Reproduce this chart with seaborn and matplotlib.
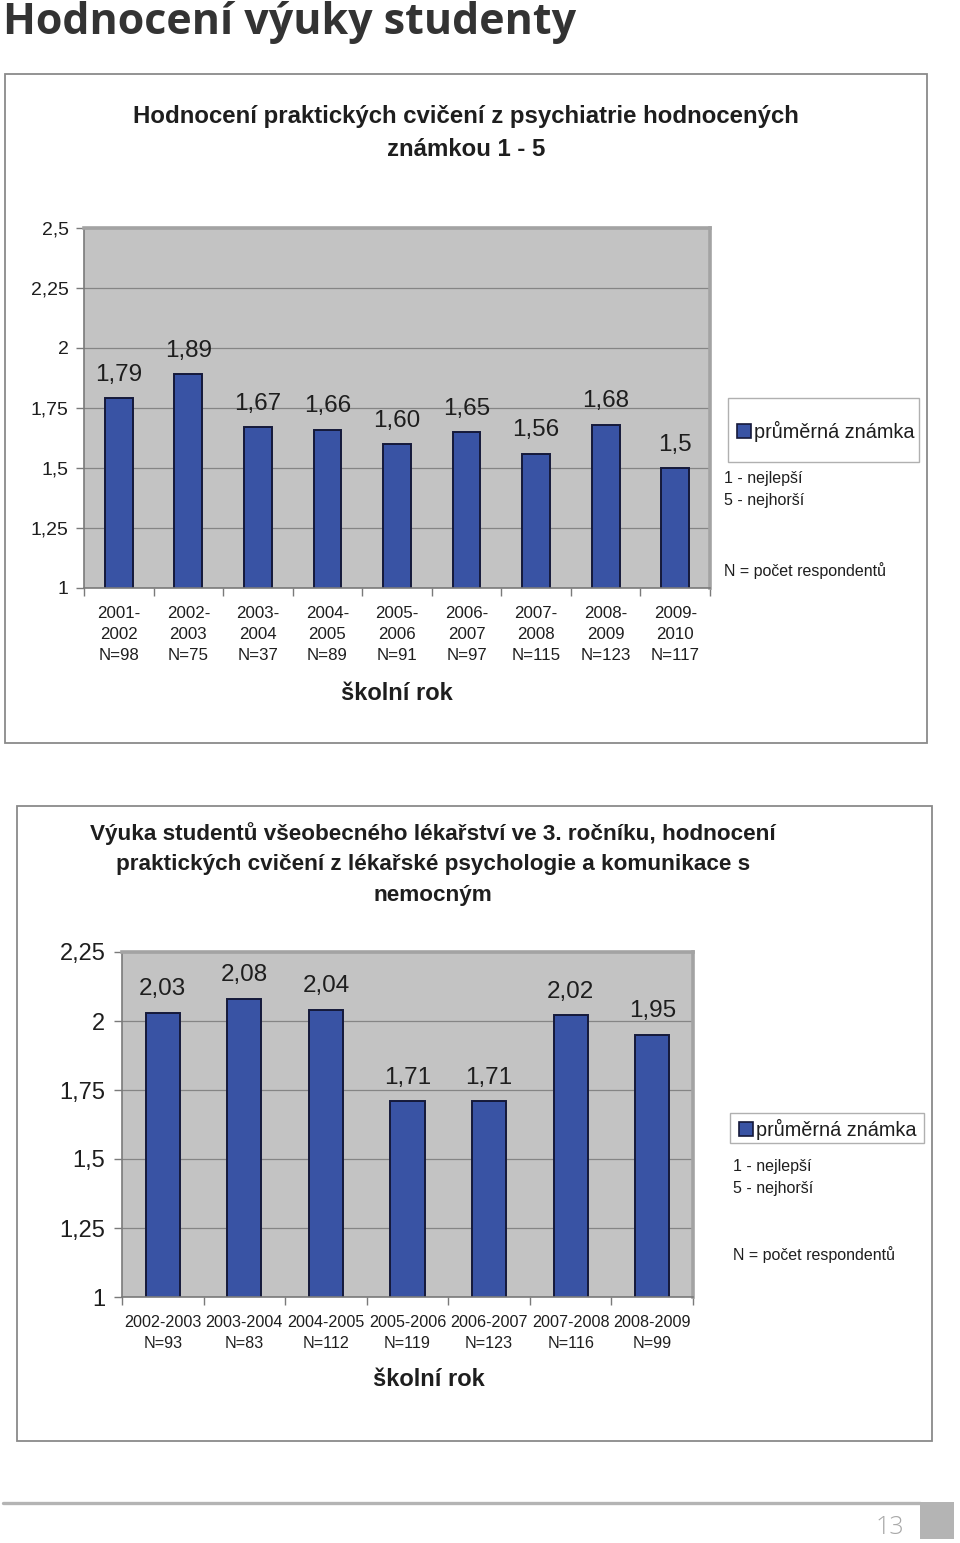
import matplotlib
matplotlib.use("Agg")
import matplotlib.pyplot as plt
import matplotlib.font_manager as fm
import seaborn as sns
import pandas as pd
import numpy as np
from matplotlib.patches import Rectangle
from matplotlib.lines import Line2D

# ---------------- data ----------------
top_years = ["2001-\n2002", "2002-\n2003", "2003-\n2004", "2004-\n2005", "2005-\n2006",
             "2006-\n2007", "2007-\n2008", "2008-\n2009", "2009-\n2010"]
top_n = [98, 75, 37, 89, 91, 97, 115, 123, 117]
top_values = [1.79, 1.89, 1.67, 1.66, 1.60, 1.65, 1.56, 1.68, 1.5]
top_value_labels = ["1,79", "1,89", "1,67", "1,66", "1,60", "1,65", "1,56", "1,68", "1,5"]
top_yticks = [1, 1.25, 1.5, 1.75, 2, 2.25, 2.5]
top_ytick_labels = ["1", "1,25", "1,5", "1,75", "2", "2,25", "2,5"]

bottom_years = ["2002-2003", "2003-2004", "2004-2005", "2005-2006", "2006-2007",
                "2007-2008", "2008-2009"]
bottom_n = [93, 83, 112, 119, 123, 116, 99]
bottom_values = [2.03, 2.08, 2.04, 1.71, 1.71, 2.02, 1.95]
bottom_value_labels = ["2,03", "2,08", "2,04", "1,71", "1,71", "2,02", "1,95"]
bottom_yticks = [1, 1.25, 1.5, 1.75, 2, 2.25]
bottom_ytick_labels = ["1", "1,25", "1,5", "1,75", "2", "2,25"]

page_title = "Hodnocení výuky studenty"
top_title = ["Hodnocení praktických cvičení z psychiatrie hodnocených", "známkou 1 - 5"]
bottom_title = ["Výuka studentů všeobecného lékařství ve 3. ročníku, hodnocení",
                "praktických cvičení z lékařské psychologie a komunikace s",
                "nemocným"]
legend_label = "průměrná známka"
scale_note_1 = "1 - nejlepší"
scale_note_5 = "5 - nejhorší"
n_note = "N = počet respondentů"
x_title = "školní rok"
page_number = "13"

# ---------------- style ----------------
sns.set_theme(style="white")
plt.rcParams['font.family'] = ['Liberation Sans', 'DejaVu Sans']
installed = {f.name for f in fm.fontManager.ttflist}
narrow = 'Liberation Sans Narrow' if 'Liberation Sans Narrow' in installed else 'Liberation Sans'

BLUE = "#3953A4"
EDGE = "#15193a"
PLOT_BG = "#C3C3C3"
GRID = "#858585"
TXT = "#1e1e1e"

W, H = 960, 1543
fig = plt.figure(figsize=(W / 100, H / 100), dpi=100)
fig.patch.set_facecolor("white")


def rect(x0, y0, x1, y1):
    return [x0 / W, 1 - y1 / H, (x1 - x0) / W, (y1 - y0) / H]


def fx(x):
    return x / W


def fy(y):
    return 1 - y / H


def style_axes(ax, n, yticks, ylabels, ysize, yfont, ypad, xsize):
    ax.set_facecolor(PLOT_BG)
    ax.set_xlim(-0.5, n - 0.5)
    ax.set_ylim(yticks[0], yticks[-1])
    ax.set_yticks(yticks)
    ax.set_yticklabels(ylabels, fontsize=ysize, family=yfont, color=TXT)
    ax.yaxis.grid(True, color=GRID, lw=0.9)
    ax.xaxis.grid(False)
    ax.set_axisbelow(True)
    for s in ("left", "bottom"):
        ax.spines[s].set_color("#7a7a7a")
        ax.spines[s].set_linewidth(1.2)
    for s in ("top", "right"):
        ax.spines[s].set_color("#a3a3a3")
        ax.spines[s].set_linewidth(2.6)
    ax.tick_params(axis="y", which="major", left=True, length=6, width=1,
                   color="#7a7a7a", pad=ypad)
    ax.tick_params(axis="x", which="major", bottom=False, length=0, pad=13,
                   labelsize=xsize, labelcolor=TXT)
    ax.set_xticks(np.arange(-0.5, n, 1), minor=True)
    ax.tick_params(axis="x", which="minor", bottom=True, length=6, width=1,
                   color="#7a7a7a")
    ax.set_ylabel("")
    for lbl in ax.get_xticklabels():
        lbl.set_linespacing(1.5)


def add_frame(x0, y0, x1, y1, color, lw):
    fig.patches.append(Rectangle((fx(x0), fy(y1)), (x1 - x0) / W, (y1 - y0) / H,
                                 transform=fig.transFigure, facecolor="none",
                                 edgecolor=color, lw=lw, zorder=0))


# ---------------- panel frames ----------------
add_frame(5, 74, 927, 743, "#8a8a8a", 1.3)
add_frame(17, 806, 932, 1441, "#8a8a8a", 1.3)

# ---------------- page header / footer ----------------
fig.text(fx(3), fy(23), page_title, family=["Open Sans", "DejaVu Sans"], weight="bold",
         fontsize=31, color="#333333", ha="left", va="center")
fig.lines.append(Line2D([fx(3), fx(920)], [fy(1503), fy(1503)], transform=fig.transFigure,
                        color="#b4b4b4", lw=2.4))
fig.patches.append(Rectangle((fx(920), fy(1539)), 34 / W, 37 / H, transform=fig.transFigure,
                             facecolor="#b4b4b4", edgecolor="none"))
fig.text(fx(890), fy(1527), page_number, family=["Open Sans", "DejaVu Sans"], weight="light",
         fontsize=18, color="#a8a8a8", ha="center", va="center")

handle = Rectangle((0, 0), 1, 1, facecolor=BLUE, edgecolor=EDGE, lw=1.2)

# ---------------- top chart ----------------
df_top = pd.DataFrame({
    "rok": [f"{y}\nN={n}" for y, n in zip(top_years, top_n)],
    "znamka": top_values,
})
ax1 = fig.add_axes(rect(84, 228, 710, 588))
sns.barplot(data=df_top, x="rok", y="znamka", color=BLUE, edgecolor=EDGE, linewidth=1.4,
            width=0.4, saturation=1, ax=ax1)
style_axes(ax1, len(top_values), top_yticks, top_ytick_labels, 14, "Liberation Sans", 5, 12.2)
ax1.bar_label(ax1.containers[0], labels=top_value_labels, padding=9, fontsize=17.5, color=TXT)
ax1.set_xlabel(x_title, fontsize=17, weight="bold", color=TXT)
ax1.xaxis.set_label_coords(0.5, -(693 - 588) / 360)
ax1.xaxis.label.set_va("center")

for i, line in enumerate(top_title):
    fig.text(fx(466), fy(117 + 33 * i), line, fontsize=17.3, weight="bold", color=TXT,
             ha="center", va="center")

add_frame(728, 398, 919, 462, "#b0b0b0", 1.0)
leg1 = ax1.legend([handle], [legend_label], loc="center left",
                  bbox_to_anchor=(fx(731), fy(431)), bbox_transform=fig.transFigure,
                  frameon=False, fontsize=14.3, handlelength=0.72, handleheight=0.72,
                  handletextpad=0.15, borderpad=0.3, borderaxespad=0)
for t in leg1.get_texts():
    t.set_color(TXT)
fig.text(fx(724), fy(479), scale_note_1, fontsize=11.5, color=TXT, ha="left", va="center")
fig.text(fx(724), fy(500), scale_note_5, fontsize=11.5, color=TXT, ha="left", va="center")
fig.text(fx(724), fy(571), n_note, fontsize=11.5, color=TXT, ha="left", va="center")

# ---------------- bottom chart ----------------
df_bot = pd.DataFrame({
    "rok": [f"{y}\nN={n}" for y, n in zip(bottom_years, bottom_n)],
    "znamka": bottom_values,
})
ax2 = fig.add_axes(rect(122, 952, 693, 1297))
sns.barplot(data=df_bot, x="rok", y="znamka", color=BLUE, edgecolor=EDGE, linewidth=1.4,
            width=0.42, saturation=1, ax=ax2)
style_axes(ax2, len(bottom_values), bottom_yticks, bottom_ytick_labels, 17, narrow, 6, 11.6)
ax2.bar_label(ax2.containers[0], labels=bottom_value_labels, padding=9, fontsize=17.5,
              color=TXT)
ax2.set_xlabel(x_title, fontsize=17, weight="bold", color=TXT)
ax2.xaxis.set_label_coords((429 - 122) / 571, -(1380 - 1297) / 345)
ax2.xaxis.label.set_va("center")

for i, line in enumerate(bottom_title):
    fig.text(fx(433), fy(834 + 31 * i), line, fontsize=16.2, weight="bold", color=TXT,
             ha="center", va="center")

add_frame(730, 1113, 924, 1143, "#b0b0b0", 1.0)
leg2 = ax2.legend([handle], [legend_label], loc="center left",
                  bbox_to_anchor=(fx(733), fy(1129)), bbox_transform=fig.transFigure,
                  frameon=False, fontsize=14.3, handlelength=0.72, handleheight=0.72,
                  handletextpad=0.15, borderpad=0.3, borderaxespad=0)
for t in leg2.get_texts():
    t.set_color(TXT)
fig.text(fx(733), fy(1167), scale_note_1, fontsize=11.5, color=TXT, ha="left", va="center")
fig.text(fx(733), fy(1189), scale_note_5, fontsize=11.5, color=TXT, ha="left", va="center")
fig.text(fx(733), fy(1255), n_note, fontsize=11.5, color=TXT, ha="left", va="center")

fig.savefig("out.png", dpi=100, facecolor="white")
